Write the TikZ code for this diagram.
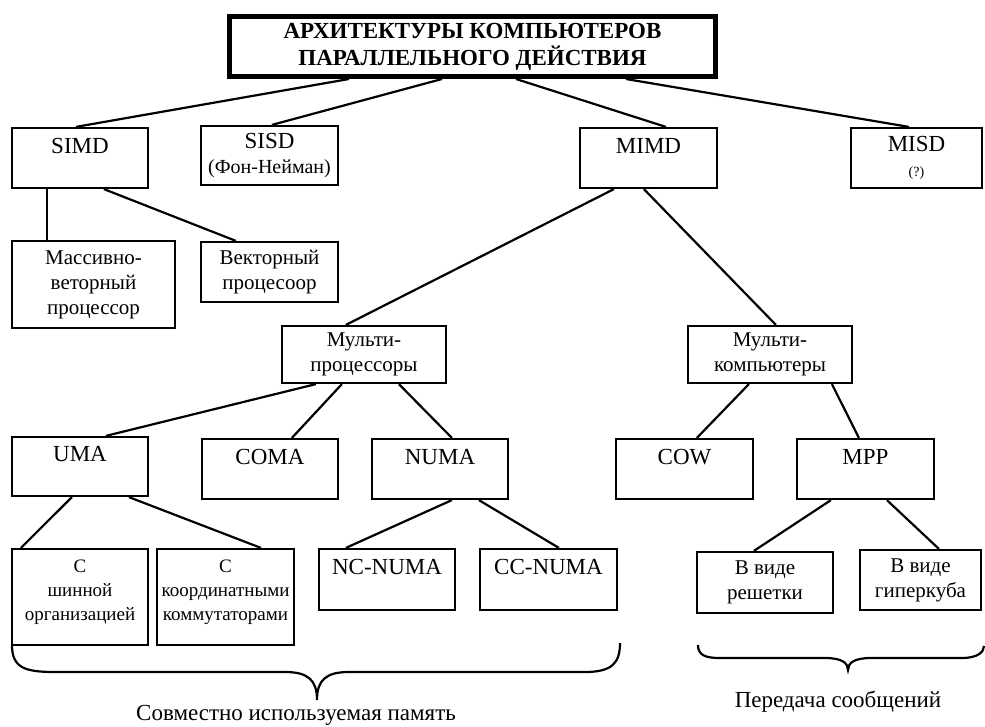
\documentclass[tikz,border=0pt]{standalone}
\usepackage{fontspec}
\setmainfont{Liberation Serif}
\begin{document}
\begin{tikzpicture}[x=1pt,y=-1pt,
  box/.style={draw, line width=2.2pt, inner sep=0pt, align=center, font=\fontsize{21}{25}\selectfont},
  lat/.style={box, font=\fontsize{23}{25}\selectfont},
  sm/.style={box, font=\fontsize{19}{24}\selectfont},
  conn/.style={line width=2.2pt},
  lbl/.style={font=\fontsize{23}{25}\selectfont, inner sep=0pt}]
\useasboundingbox (0,0) rectangle (985,726);
% top
\node[draw, line width=5pt, inner sep=0pt, align=center, minimum width=486pt, minimum height=60pt,
  font=\bfseries\fontsize{23}{27}\selectfont] (title) at (472.5,46.5) {АРХИТЕКТУРЫ КОМПЬЮТЕРОВ\\ПАРАЛЛЕЛЬНОГО ДЕЙСТВИЯ};
% level 1
\node[lat, minimum width=136pt, minimum height=60pt] (simd) at (80,158) {SIMD\\\mbox{}};
\node[lat, minimum width=137pt, minimum height=59pt] (sisd) at (269.5,155.5) {SISD\\{\fontsize{20}{25}\selectfont(Фон-Нейман)}};
\node[lat, minimum width=137pt, minimum height=60pt] (mimd) at (648.5,158) {MIMD\\\mbox{}};
\node[lat, minimum width=131pt, minimum height=60pt] (misd) at (916.5,158) {MISD\\{\fontsize{14}{25}\selectfont(?)}};
% SIMD children
\node[box, minimum width=163pt, minimum height=87pt] (massiv) at (93.5,284.5) {Массивно-\\веторный\\процессор};
\node[box, minimum width=137pt, minimum height=60pt] (vect) at (269.5,272) {Векторный\\процесоор};
% MIMD children
\node[box, minimum width=164pt, minimum height=57pt] (mproc) at (364,354.5) {Мульти-\\процессоры};
\node[box, minimum width=164pt, minimum height=57pt] (mcomp) at (770,354.5) {Мульти-\\компьютеры};
% multiprocessors children
\node[lat, minimum width=136pt, minimum height=59pt] (uma) at (80,466.5) {UMA\\\mbox{}};
\node[lat, minimum width=136pt, minimum height=60pt] (coma) at (270,469) {COMA\\\mbox{}};
\node[lat, minimum width=136pt, minimum height=60pt] (numa) at (440,469) {NUMA\\\mbox{}};
% multicomputers children
\node[lat, minimum width=137pt, minimum height=60pt] (cow) at (684.5,469) {COW\\\mbox{}};
\node[lat, minimum width=137pt, minimum height=60pt] (mpp) at (865.5,469) {MPP\\\mbox{}};
% bottom level
\node[sm, minimum width=136pt, minimum height=96pt] (shin) at (80,597) {С\\шинной\\организацией\\[-10pt]\mbox{}};
\node[sm, minimum width=137pt, minimum height=96pt] (koord) at (225.5,597) {С\\координатными\\коммутаторами\\[-10pt]\mbox{}};
\node[lat, minimum width=136pt, minimum height=61pt] (ncnuma) at (387,579.5) {NC-NUMA\\\mbox{}};
\node[lat, minimum width=137pt, minimum height=61pt] (ccnuma) at (548.5,579.5) {CC-NUMA\\\mbox{}};
\node[box, minimum width=136pt, minimum height=61pt] (resh) at (765,582.5) {В виде\\решетки};
\node[box, minimum width=121pt, minimum height=60pt] (giper) at (920.5,580) {В виде\\гиперкуба};
% connectors
\draw[conn] ([xshift=122pt]title.south west) -- ([xshift=65pt]simd.north west);
\draw[conn] ([xshift=215pt]title.south west) -- ([xshift=72pt]sisd.north west);
\draw[conn] ([xshift=289pt]title.south west) -- ([xshift=87pt]mimd.north west);
\draw[conn] ([xshift=399pt]title.south west) -- ([xshift=59pt]misd.north west);
\draw[conn] ([xshift=36pt]simd.south west) -- ([xshift=36pt]massiv.north west);
\draw[conn] ([xshift=93pt]simd.south west) -- ([xshift=36pt]vect.north west);
\draw[conn] ([xshift=35pt]mimd.south west) -- ([xshift=65pt]mproc.north west);
\draw[conn] ([xshift=65pt]mimd.south west) -- ([xshift=89pt]mcomp.north west);
\draw[conn] ([xshift=35pt]mproc.south west) -- ([xshift=95pt]uma.north west);
\draw[conn] ([xshift=61pt]mproc.south west) -- ([xshift=91pt]coma.north west);
\draw[conn] ([xshift=118pt]mproc.south west) -- ([xshift=81pt]numa.north west);
\draw[conn] ([xshift=61pt]uma.south west) -- ([xshift=10pt]shin.north west);
\draw[conn] ([xshift=118pt]uma.south west) -- ([xshift=105pt]koord.north west);
\draw[conn] ([xshift=81pt]numa.south west) -- ([xshift=28pt]ncnuma.north west);
\draw[conn] ([xshift=108pt]numa.south west) -- ([xshift=80pt]ccnuma.north west);
\draw[conn] ([xshift=62pt]mcomp.south west) -- ([xshift=82pt]cow.north west);
\draw[conn] ([xshift=145pt]mcomp.south west) -- ([xshift=63pt]mpp.north west);
\draw[conn] ([xshift=35pt]mpp.south west) -- ([xshift=58pt]resh.north west);
\draw[conn] ([xshift=91pt]mpp.south west) -- ([xshift=80pt]giper.north west);
% braces
\draw[conn] (12,645) .. controls (12,668) and (25,672) .. (55,672) -- (285,672)
  .. controls (308,672) and (317,680) .. (317,700)
  .. controls (317,680) and (326,672) .. (349,672) -- (585,672)
  .. controls (612,672) and (620,663) .. (620,643);
\draw[conn] (698,645) .. controls (698,655) and (705,658) .. (720,658) -- (825,658)
  .. controls (842,658) and (848,663) .. (848,670)
  .. controls (848,663) and (854,658) .. (871,658) -- (962,658)
  .. controls (976,658) and (984,653) .. (984,646);
\node[lbl] (shared) at (296,715) {Совместно используемая память};
\node[lbl] (msg) at (838,702) {Передача сообщений};
\end{tikzpicture}
\end{document}
